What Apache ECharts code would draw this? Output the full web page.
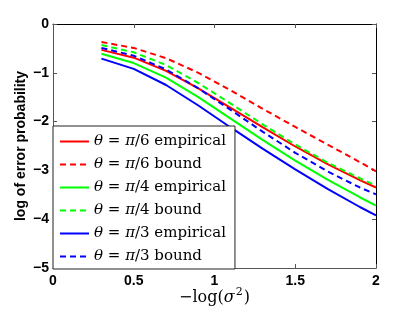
<!DOCTYPE html>
<html>
<head>
<meta charset="utf-8">
<script src="https://cdn.jsdelivr.net/npm/echarts@6/dist/echarts.min.js"></script>
<style>html,body{margin:0;padding:0;background:#fff}#c{width:415px;height:312px}</style>
</head>
<body>
<div id="c"></div>
<script>
const xValues = [0.3, 0.5, 0.7, 0.9, 1.1, 1.3, 1.5, 1.7, 1.9, 2.0];
const pi6Empirical = [-0.53, -0.69, -0.96, -1.32, -1.72, -2.12, -2.51, -2.87, -3.20, -3.35];
const pi6Bound     = [-0.37, -0.49, -0.70, -1.00, -1.36, -1.74, -2.11, -2.47, -2.83, -3.02];
const pi4Empirical = [-0.61, -0.80, -1.10, -1.50, -1.94, -2.38, -2.80, -3.19, -3.55, -3.72];
const pi4Bound     = [-0.43, -0.58, -0.84, -1.21, -1.63, -2.06, -2.47, -2.84, -3.16, -3.31];
const pi3Empirical = [-0.71, -0.92, -1.25, -1.67, -2.12, -2.56, -2.98, -3.38, -3.75, -3.92];
const pi3Bound     = [-0.49, -0.65, -0.93, -1.32, -1.76, -2.21, -2.64, -3.02, -3.35, -3.49];
const xTickLabels = ['0', '0.5', '1', '1.5', '2'];
const yTickLabels = ['\u22125', '\u22124', '\u22123', '\u22122', '\u22121', '0'];
const seriesNames = ['pi6e', 'pi6b', 'pi4e', 'pi4b', 'pi3e', 'pi3b'];
const legendTexts = {
  pi6e: ['6', 'empirical'], pi6b: ['6', 'bound'],
  pi4e: ['4', 'empirical'], pi4b: ['4', 'bound'],
  pi3e: ['3', 'empirical'], pi3b: ['3', 'bound']
};
const seriesData = [pi6Empirical, pi6Bound, pi4Empirical, pi4Bound, pi3Empirical, pi3Bound];
const colors = ['#ff0000', '#ff0000', '#00ff00', '#00ff00', '#0000ff', '#0000ff'];
const dashed = [false, true, false, true, false, true];

const chart = echarts.init(document.getElementById('c'), null, {renderer: 'canvas'});
const serif = 'DejaVu Serif';
const sans = 'Liberation Sans';

const series = seriesNames.map((n, i) => ({
  name: n,
  type: 'line',
  symbol: 'none',
  data: xValues.map((x, j) => [x, seriesData[i][j]]),
  lineStyle: {color: colors[i], width: 2, type: dashed[i] ? [6, 4] : 'solid'},
  itemStyle: {color: colors[i]},
  emphasis: {disabled: true},
  animation: false
}));

const axisBase = {
  min: 0, max: 2, interval: 0.5, type: 'value',
  splitLine: {show: false}
};

chart.setOption({
  animation: false,
  grid: {left: 53, right: 39, top: 24, bottom: 44},
  xAxis: [
    Object.assign({}, axisBase, {
      position: 'bottom',
      axisLine: {show: true, onZero: false, lineStyle: {color: '#555', width: 1}},
      axisTick: {show: true, inside: true, length: 4, lineStyle: {color: '#555'}},
      axisLabel: {
        color: '#000', fontFamily: sans, fontWeight: 'bold', fontSize: 14, margin: 6,
        formatter: v => xTickLabels[Math.round(v / 0.5)]
      },
      name: '{a|\u2212log(}{s|\u03c3}{p|2}{a|)}',
      nameLocation: 'middle', nameGap: 19,
      nameMoveOverlap: false,
      nameTextStyle: {
        rich: {
          a: {fontFamily: serif, fontSize: 16, color: '#000', lineHeight: 19, verticalAlign: 'bottom'},
          s: {fontFamily: serif, fontSize: 16, fontStyle: 'italic', color: '#000', lineHeight: 19, verticalAlign: 'bottom'},
          p: {fontFamily: serif, fontSize: 11, color: '#000', lineHeight: 11, verticalAlign: 'top', padding: [0, 1, 0, 1]}
        }
      }
    }),
    Object.assign({}, axisBase, {
      position: 'top',
      axisLine: {show: true, onZero: false, lineStyle: {color: '#000', width: 1}},
      axisTick: {show: true, inside: true, length: 4, lineStyle: {color: '#555'}},
      axisLabel: {show: false}
    })
  ],
  yAxis: [
    {
      type: 'value', min: -5, max: 0, interval: 1, position: 'left',
      splitLine: {show: false},
      axisLine: {show: true, onZero: false, lineStyle: {color: '#555', width: 1}},
      axisTick: {show: true, inside: true, length: 4, lineStyle: {color: '#555'}},
      axisLabel: {
        color: '#000', fontFamily: sans, fontWeight: 'bold', fontSize: 14, margin: 4,
        formatter: v => yTickLabels[Math.round(v + 5)]
      },
      name: 'log of error probability',
      nameLocation: 'middle', nameGap: 25,
      nameMoveOverlap: false,
      nameTextStyle: {color: '#000', fontFamily: sans, fontWeight: 'bold', fontSize: 14}
    },
    {
      type: 'value', min: -5, max: 0, interval: 1, position: 'right',
      splitLine: {show: false},
      axisLine: {show: true, onZero: false, lineStyle: {color: '#000', width: 1}},
      axisTick: {show: true, inside: true, length: 4, lineStyle: {color: '#555'}},
      axisLabel: {show: false}
    }
  ],
  legend: {
    orient: 'vertical',
    left: 53, top: 126,
    padding: [8, 9, 5, 6],
    itemGap: 8,
    itemWidth: 29,
    itemHeight: 14,
    backgroundColor: '#fff',
    borderColor: '#222',
    borderWidth: 1,
    borderRadius: 0,
    selectedMode: false,
    itemStyle: {color: 'rgba(0,0,0,0)', borderColor: 'rgba(0,0,0,0)', borderWidth: 0, opacity: 0},
    data: seriesNames,
    formatter: n => '{i|\u03b8}{n| = }{i|\u03c0}{n|/' + legendTexts[n][0] + ' ' + legendTexts[n][1] + '}',
    textStyle: {
      rich: {
        i: {fontFamily: serif, fontStyle: 'italic', fontSize: 15, color: '#000', lineHeight: 18},
        n: {fontFamily: serif, fontSize: 15, color: '#000', lineHeight: 18}
      }
    }
  },
  series: series
});
</script>
</body>
</html>
